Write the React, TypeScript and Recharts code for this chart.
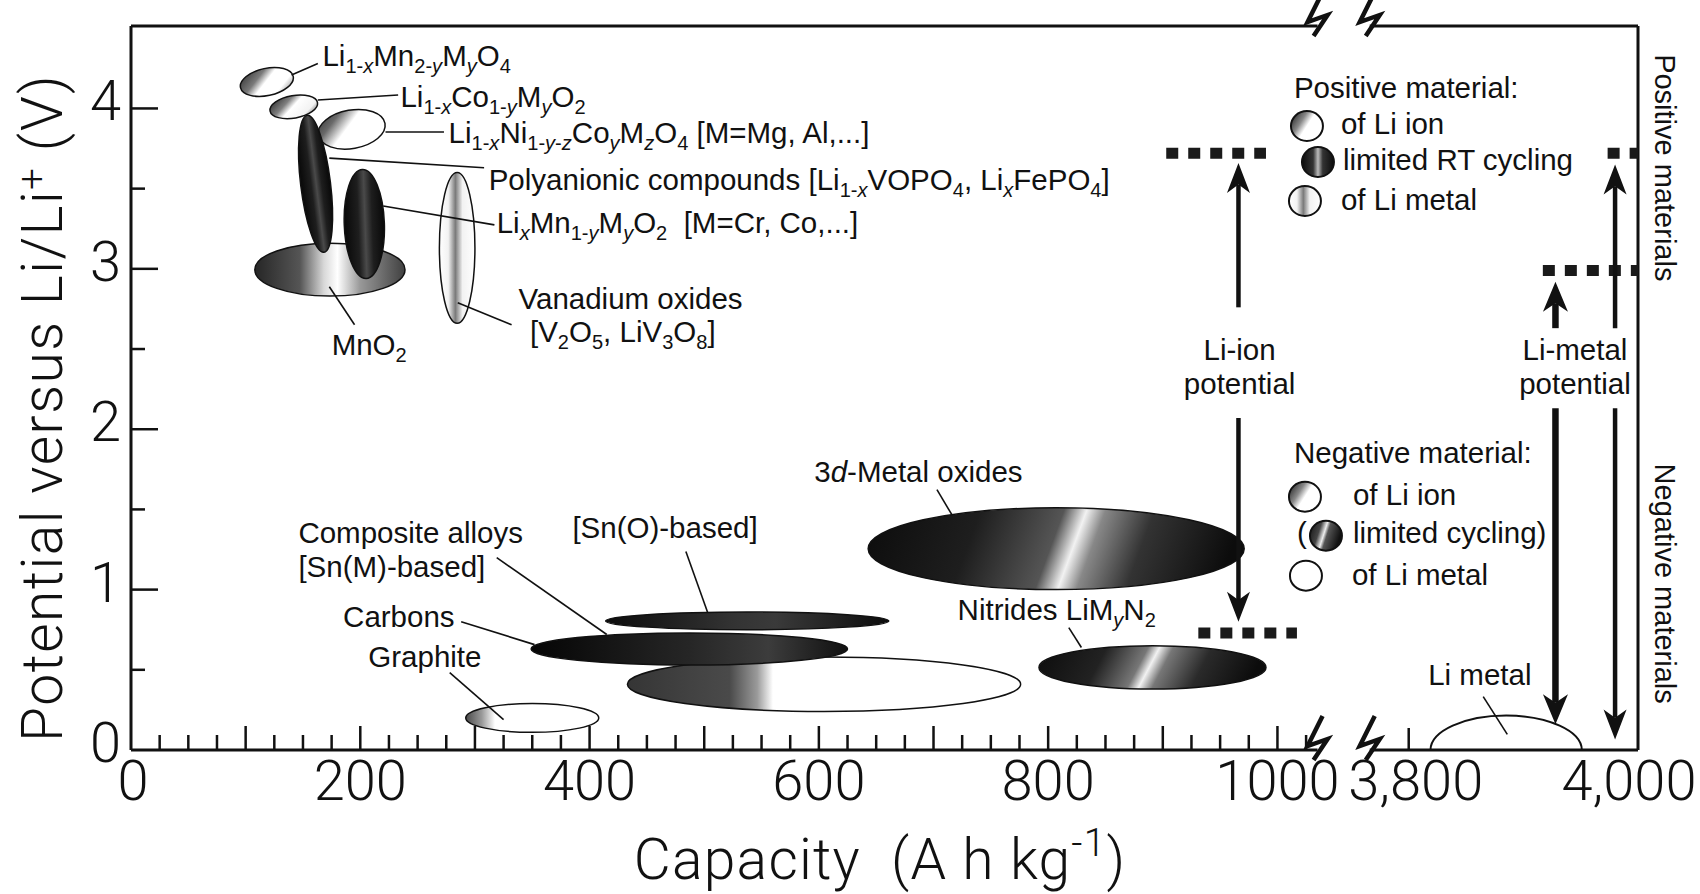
import React from 'react';
import {
  ComposedChart, XAxis, YAxis, Scatter,
  ReferenceArea, ReferenceLine, ReferenceDot,
} from 'recharts';

// the capacity axis is broken: 0-1025 and 3,775-4,000 share one drawn line
const toV = (cap: number) => (cap < 2000 ? cap : cap - 2685.5);
const X_MAX = toV(4000);
const Y_MAX = 4.514;

// ---- values (capacity A h/kg, potential V) ----
const positiveMaterials = [
  { id: 'mno2', cap: [108, 239], volt: [2.83, 3.16] },
  { id: 'nickel', cap: [163, 222], volt: [3.75, 3.99] },
  { id: 'cobalt', cap: [121, 163], volt: [3.94, 4.08] },
  { id: 'spinel', cap: [95, 142], volt: [4.08, 4.25] },
  { id: 'polyanionic', cap: [148, 174], volt: [3.1, 3.96] },
  { id: 'layeredMn', cap: [186, 221], volt: [2.94, 3.62] },
  { id: 'vanadium', cap: [269, 300], volt: [2.66, 3.6] },
];

const negativeMaterials = [
  { id: 'alloys', cap: [433, 776], volt: [0.24, 0.58] },
  { id: 'graphite', cap: [292, 408], volt: [0.11, 0.29] },
  { id: 'carbons', cap: [349, 625], volt: [0.53, 0.73] },
  { id: 'tinOxide', cap: [414, 661], volt: [0.75, 0.86] },
  { id: 'oxides3d', cap: [643, 971], volt: [1.0, 1.51] },
  { id: 'nitrides', cap: [792, 990], volt: [0.38, 0.65] },
  { id: 'liMetal', cap: [3819, 3951], volt: [-0.215, 0.215] },
];

const potentialLevels = [
  { id: 'ion-pos', volt: 3.72, cap: [903, 990] },
  { id: 'ion-neg', volt: 0.73, cap: [931, 1017] },
  { id: 'metal-4v', volt: 3.72, cap: [3973.5, 4000] },
  { id: 'metal-3v', volt: 2.99, cap: [3917, 4000] },
];

const potentialArrows = [
  { id: 'ion-up', cap: 966, from: 2.76, to: 3.66, heavy: false },
  { id: 'ion-down', cap: 966, from: 2.07, to: 0.8, heavy: false },
  { id: 'metal-up', cap: 3928, from: 2.63, to: 2.92, heavy: true },
  { id: 'metal-down', cap: 3928, from: 2.13, to: 0.16, heavy: true },
  { id: 'metal4-up', cap: 3980, from: 2.63, to: 3.65, heavy: false },
  { id: 'metal4-down', cap: 3980, from: 2.13, to: 0.066, heavy: false },
];

// label text, where it starts, and its leader line
const materialLabels = [
  { text: 'Li_{1-*x*}Mn_{2-*y*}M_{*y*}O_{4}', at: [167, 4.262], line: [[140, 4.209], [163, 4.28]] },
  { text: 'Li_{1-*x*}Co_{1-*y*}M_{*y*}O_{2}', at: [235, 4.012], line: [[163, 4.053], [233, 4.084]] },
  { text: 'Li_{1-*x*}Ni_{1-*y*-*z*}Co_{*y*}M_{*z*}O_{4} [M=Mg, Al,...]', at: [277, 3.785], line: [[222, 3.853], [273, 3.853]] },
  { text: 'Polyanionic compounds [Li_{1-*x*}VOPO_{4}, Li_{*x*}FePO_{4}]', at: [312, 3.49], line: [[173, 3.69], [308, 3.63]] },
  { text: 'Li_{*x*}Mn_{1-*y*}M_{*y*}O_{2}  [M=Cr, Co,...]', at: [319, 3.224], line: [[220, 3.392], [317, 3.274]] },
  { text: 'Vanadium oxides', at: [338, 2.75], line: [[285, 2.788], [332, 2.651]] },
  { text: '[V_{2}O_{5}, LiV_{3}O_{8}]', at: [348, 2.542] },
  { text: 'MnO_{2}', at: [175, 2.464], line: [[173, 2.888], [195, 2.651]] },
  { text: 'Composite alloys', at: [146, 1.293] },
  { text: '[Sn(M)-based]', at: [146, 1.081], line: [[319, 1.199], [415, 0.72]] },
  { text: 'Carbons', at: [185, 0.769], line: [[288, 0.8], [352, 0.657]] },
  { text: 'Graphite', at: [207, 0.52], line: [[278, 0.483], [325, 0.19]] },
  { text: '[Sn(O)-based]', at: [385, 1.324], line: [[484, 1.237], [503, 0.857]] },
  { text: '3*d*-Metal oxides', at: [596, 1.673], line: [[703, 1.623], [716, 1.467]] },
  { text: 'Nitrides LiM_{*y*}N_{2}', at: [721, 0.813], line: [[818, 0.763], [829, 0.639]] },
  { text: 'Li metal', at: [3817, 0.408], line: [[3865, 0.333], [3886, 0.097]] },
];

const potentialNotes = [
  { lines: ['Li-ion', 'potential'], cap: 967, volt: [2.43, 2.222] },
  { lines: ['Li-metal', 'potential'], cap: 3945, volt: [2.43, 2.222] },
];

const positiveLegend = { title: 'Positive material:', items: ['of Li ion', 'limited RT cycling', 'of Li metal'] };
const negativeLegend = { title: 'Negative material:', items: ['of Li ion', 'limited cycling)', 'of Li metal'] };
const sideLabels = ['Positive materials', 'Negative materials'];

const xTickLabels = [
  { cap: 0, label: '0' }, { cap: 200, label: '200' }, { cap: 400, label: '400' },
  { cap: 600, label: '600' }, { cap: 800, label: '800' }, { cap: 1000, label: '1000' },
  { cap: 3800, label: '3,800' }, { cap: 4000, label: '4,000' },
];
const yTickValues = [0, 0.5, 1, 1.5, 2, 2.5, 3, 3.5, 4];
const xTitle = 'Capacity  (A h kg^{-1})';
const yTitle = 'Potential versus Li/Li^{+} (V)';

// ---- styling / layout ----
const INK = '#111';
const LABEL_FONT = '"Liberation Sans", Arial, Helvetica, sans-serif';
const AXIS_FONT = 'Roboto, "Liberation Sans", sans-serif';
const LABEL_SIZE = 29.5;

const shading: Record<string, { fill: string; tilt: number }> = {
  mno2: { fill: 'gMnO2', tilt: 0 },
  nickel: { fill: 'gNickel', tilt: -10 },
  cobalt: { fill: 'gCobalt', tilt: -10 },
  spinel: { fill: 'gSpinel', tilt: -12 },
  polyanionic: { fill: 'gDark', tilt: -7 },
  layeredMn: { fill: 'gDark', tilt: -2 },
  vanadium: { fill: 'gVanadium', tilt: 0 },
  alloys: { fill: 'gAlloys', tilt: 0 },
  graphite: { fill: 'gGraphite', tilt: 0 },
  carbons: { fill: 'gCarbons', tilt: 0 },
  tinOxide: { fill: 'gTin', tilt: 0 },
  oxides3d: { fill: 'g3d', tilt: 0 },
  nitrides: { fill: 'gNitride', tilt: 0 },
  liMetal: { fill: 'white', tilt: 0 },
};

const gradients: { id: string; dir: number[]; stops: [number, string][] }[] = [
  { id: 'gSpinel', dir: [0, 0.2, 1, 0.8], stops: [[0, '#3a3a3a'], [0.3, '#7a7a7a'], [0.48, '#fff'], [0.8, '#fff'], [1, '#9a9a9a']] },
  { id: 'gCobalt', dir: [0, 0.2, 1, 0.8], stops: [[0, '#333'], [0.3, '#808080'], [0.48, '#fff'], [0.82, '#f2f2f2'], [1, '#777']] },
  { id: 'gNickel', dir: [0, 0, 1, 0.6], stops: [[0, '#2a2a2a'], [0.28, '#6a6a6a'], [0.52, '#fff'], [1, '#fff']] },
  { id: 'gDark', dir: [0, 0, 1, 0], stops: [[0, '#080808'], [0.35, '#1e1e1e'], [0.52, '#4a4a4a'], [0.7, '#1e1e1e'], [1, '#080808']] },
  { id: 'gMnO2', dir: [0, 0, 1, 0], stops: [[0, '#262626'], [0.3, '#555'], [0.46, '#d8d8d8'], [0.55, '#fff'], [0.7, '#999'], [1, '#404040']] },
  { id: 'gVanadium', dir: [0, 0, 1, 0], stops: [[0, '#fff'], [0.25, '#f2f2f2'], [0.45, '#7a7a7a'], [0.65, '#f2f2f2'], [1, '#fff']] },
  { id: 'gGraphite', dir: [0, 0, 1, 0], stops: [[0, '#4a4a4a'], [0.12, '#999'], [0.22, '#fff'], [1, '#fff']] },
  { id: 'gAlloys', dir: [0, 0, 1, 0], stops: [[0, '#353535'], [0.26, '#4a4a4a'], [0.33, '#9a9a9a'], [0.37, '#fff'], [1, '#fff']] },
  { id: 'gCarbons', dir: [0, 0, 1, 0], stops: [[0, '#050505'], [0.5, '#262626'], [0.75, '#3c3c3c'], [1, '#101010']] },
  { id: 'gTin', dir: [0, 0, 1, 0], stops: [[0, '#0c0c0c'], [0.45, '#333'], [0.6, '#3a3a3a'], [1, '#0c0c0c']] },
  { id: 'g3d', dir: [0, 0, 1, 0.08], stops: [[0, '#0c0c0c'], [0.3, '#1e1e1e'], [0.52, '#555'], [0.58, '#f2f2f2'], [0.63, '#888'], [0.76, '#333'], [1, '#0c0c0c']] },
  { id: 'gNitride', dir: [0, 0, 1, 0.1], stops: [[0, '#0c0c0c'], [0.3, '#222'], [0.48, '#777'], [0.53, '#f2f2f2'], [0.59, '#777'], [0.76, '#2a2a2a'], [1, '#0c0c0c']] },
  { id: 'gLegIon', dir: [0, 0.2, 1, 0.8], stops: [[0, '#2a2a2a'], [0.3, '#888'], [0.5, '#fff'], [1, '#fff']] },
  { id: 'gLegStripe', dir: [0, 0, 1, 0], stops: [[0, '#0c0c0c'], [0.35, '#333'], [0.5, '#bbb'], [0.65, '#333'], [1, '#0c0c0c']] },
  { id: 'gLeg3d', dir: [0, 0, 1, 0.3], stops: [[0, '#111'], [0.35, '#444'], [0.52, '#eee'], [0.62, '#555'], [1, '#111']] },
];

const legendLayout = {
  positive: { at: [1014.4, 4.065], circles: [[13, 28], [24, 64], [11, 103]], texts: [[47, 36], [49, 72], [47, 112]],
    fills: ['url(#gLegIon)', 'url(#gLegStripe)', 'url(#gVanadium)'] },
  negative: { at: [1014.4, 1.791], circles: [[11, 34], [32, 73], [12, 113]], texts: [[59, 42], [59, 80], [58, 122]],
    fills: ['url(#gLegIon)', 'url(#gLeg3d)', '#fff'], paren: [3, 80] },
};
const sideLabelAt = [[4014.4, 3.63], [4014.4, 1.037]];
const breakMarks = [1035, 3766];
const frameGap = [1035, 3766];
const Y_TITLE_POS = { x: 62, y: 408 };

// x ticks: minor every 25, major every 100 on the first segment
const xInfo = new Map<number, { len: number; label?: string; dx?: number }>();
for (let c = 25; c <= 1025; c += 25) xInfo.set(c, { len: c % 100 === 0 ? 24 : 15 });
xTickLabels.forEach((t) => {
  const v = toV(t.cap);
  const len = t.cap === 3800 ? 22 : t.cap === 0 || t.cap === 4000 ? 0 : xInfo.get(v)?.len ?? 0;
  const dx = t.cap === 3800 ? 7 : t.cap === 4000 ? -9 : t.cap === 0 ? 2 : 0;
  xInfo.set(v, { len, label: t.label, dx });
});
const xTicks = Array.from(xInfo.keys()).sort((a, b) => a - b);

// tiny markup: _{sub} ^{sup} *italic*
function rich(src: string, fs: number, supShift = 0.4) {
  const out: React.ReactNode[] = [];
  let level = 0;
  let cur = 0;
  let italic = false;
  let buf = '';
  const flush = () => {
    if (!buf) return;
    const target = level === 1 ? fs * 0.24 : level === -1 ? -fs * supShift : 0;
    out.push(
      <tspan key={out.length} dy={target - cur} fontSize={level ? fs * 0.68 : fs}
        fontStyle={italic ? 'italic' : 'normal'}>{buf}</tspan>,
    );
    cur = target;
    buf = '';
  };
  for (let i = 0; i < src.length; i++) {
    const ch = src[i];
    if ((ch === '_' || ch === '^') && src[i + 1] === '{') { flush(); level = ch === '_' ? 1 : -1; i++; continue; }
    if (ch === '}' && level !== 0) { flush(); level = 0; continue; }
    if (ch === '*') { flush(); italic = !italic; continue; }
    buf += ch;
  }
  flush();
  return out;
}

const ellipseShape = (id: string) => (p: any) => {
  const { fill, tilt } = shading[id];
  const w = Math.abs(p.width);
  const h = Math.abs(p.height);
  const cx = p.x + p.width / 2;
  const cy = p.y + p.height / 2;
  const paint = fill.startsWith('g') ? `url(#${fill})` : fill;
  if (id === 'liMetal') {
    // dome sitting on the axis
    return <path d={`M${cx - w / 2},${cy} A${w / 2},${h / 2} 0 0 1 ${cx + w / 2},${cy}`} fill="#fff" stroke={INK} strokeWidth={2} />;
  }
  return (
    <ellipse cx={cx} cy={cy} rx={w / 2} ry={h / 2} fill={paint} stroke={INK} strokeWidth={1.5}
      transform={tilt ? `rotate(${tilt} ${cx} ${cy})` : undefined} />
  );
};

const arrowShape = (heavy: boolean) => (p: any) => {
  const { x1, y1, x2, y2 } = p;
  const shaft = heavy ? 6.5 : 4.5;
  const hw = heavy ? 25 : 23;
  const hl = 30;
  const dir = y2 < y1 ? -1 : 1;
  const back = y2 - dir * hl;
  const notch = y2 - dir * hl * 0.72;
  return (
    <g>
      <line x1={x1} y1={y1} x2={x2} y2={notch} stroke={INK} strokeWidth={shaft} />
      <polygon points={`${x2},${y2} ${x2 - hw / 2},${back} ${x2},${notch} ${x2 + hw / 2},${back}`} fill={INK} />
    </g>
  );
};

const textShape = (src: string, anchor = 'start') => (p: any) => (
  <text x={p.cx} y={p.cy} fontFamily={LABEL_FONT} fontSize={LABEL_SIZE} fill={INK} textAnchor={anchor}
    style={{ whiteSpace: 'pre' }}>{rich(src, LABEL_SIZE)}</text>
);

const zigzag = (p: any) => {
  const cx = p.cx;
  const cy = p.cy - 12;
  const pts = [[5, -22], [-10, 8], [10, 1], [-4, 22]].map(([dx, dy]) => `${cx + dx},${cy + dy}`).join(' ');
  return <polyline points={pts} fill="none" stroke={INK} strokeWidth={4.5} strokeLinejoin="miter" />;
};

const legendShape = (block: typeof positiveLegend, lay: any) => (p: any) => (
  <g fontFamily={LABEL_FONT} fontSize={LABEL_SIZE} fill={INK}>
    <text x={p.cx} y={p.cy}>{block.title}</text>
    {lay.paren && <text x={p.cx + lay.paren[0]} y={p.cy + lay.paren[1]}>(</text>}
    {block.items.map((item, i) => (
      <g key={item}>
        <ellipse cx={p.cx + lay.circles[i][0]} cy={p.cy + lay.circles[i][1]} rx={16} ry={15}
          fill={lay.fills[i]} stroke={INK} strokeWidth={2} />
        <text x={p.cx + lay.texts[i][0]} y={p.cy + lay.texts[i][1]}>{item}</text>
      </g>
    ))}
  </g>
);

const sideShape = (label: string) => (p: any) => (
  <text x={p.cx} y={p.cy} transform={`rotate(90 ${p.cx} ${p.cy})`} textAnchor="middle"
    fontFamily={LABEL_FONT} fontSize={29} fill={INK}>{label}</text>
);

const XTick = (p: any) => {
  const info = xInfo.get(p.payload.value);
  if (!info) return null;
  return (
    <g>
      {info.len > 0 && <line x1={p.x} y1={p.y} x2={p.x} y2={p.y - info.len} stroke={INK} strokeWidth={2.5} />}
      {info.label && (
        <text x={p.x + (info.dx ?? 0)} y={p.y + 49.5} textAnchor="middle" fontFamily={AXIS_FONT}
          fontWeight={300} fontSize={56} fill={INK}>{info.label}</text>
      )}
    </g>
  );
};

const YTick = (p: any) => {
  const v = p.payload.value;
  const major = Number.isInteger(v);
  return (
    <g>
      {v > 0 && <line x1={p.x} y1={p.y} x2={p.x + (major ? 27 : 14)} y2={p.y} stroke={INK} strokeWidth={2.5} />}
      {major && (
        <text x={p.x - 10} y={p.y + 12} textAnchor="end" fontFamily={AXIS_FONT} fontWeight={300}
          fontSize={56} fill={INK}>{v}</text>
      )}
    </g>
  );
};

const XTitle = (p: any) => {
  const vb = p.viewBox ?? { x: 131, y: 750.5 };
  return (
    <text x={vb.x + 749} y={vb.y + 129} textAnchor="middle" fontFamily={AXIS_FONT} fontWeight={300}
      fontSize={57} letterSpacing={1.2} fill={INK} style={{ whiteSpace: 'pre' }}>{rich(xTitle, 57)}</text>
  );
};

const YTitle = () => {
  const { x, y } = Y_TITLE_POS;
  return (
    <text x={x} y={y} transform={`rotate(-90 ${x} ${y})`} textAnchor="middle" fontFamily={AXIS_FONT}
      fontWeight={300} fontSize={57} letterSpacing={1.4} fill={INK}>{rich(yTitle, 57, 0.3)}</text>
  );
};

const centers = [...positiveMaterials, ...negativeMaterials].map((m) => ({
  x: toV((m.cap[0] + m.cap[1]) / 2),
  y: Math.max(0, (m.volt[0] + m.volt[1]) / 2),
}));

export default function App() {
  const frame = { stroke: INK, strokeWidth: 3, ifOverflow: 'visible' as const };
  return (
    <div style={{ position: 'absolute', left: 0, top: 0, background: '#fff' }}>
      <ComposedChart width={1700} height={894} margin={{ top: 26, right: 62, bottom: 54, left: 61 }}>
        <defs>
          {gradients.map((g) => (
            <linearGradient key={g.id} id={g.id} x1={g.dir[0]} y1={g.dir[1]} x2={g.dir[2]} y2={g.dir[3]}>
              {g.stops.map(([o, c], i) => <stop key={i} offset={o} stopColor={c} />)}
            </linearGradient>
          ))}
        </defs>
        <XAxis type="number" dataKey="x" domain={[0, X_MAX]} ticks={xTicks} interval={0} allowDataOverflow
          height={90} tickSize={0} tickMargin={0} tickLine={false} axisLine={false} tick={<XTick />}
          label={{ content: XTitle }} />
        <YAxis type="number" dataKey="y" domain={[0, Y_MAX]} ticks={yTickValues} interval={0} allowDataOverflow
          width={70} tickSize={0} tickMargin={0} tickLine={false} axisLine={{ stroke: INK, strokeWidth: 3 }}
          tick={<YTick />} label={{ content: YTitle }} />

        <Scatter data={centers} isAnimationActive={false} legendType="none" shape={() => <g />} />

        {[...positiveMaterials, ...negativeMaterials].map((m) => (
          <ReferenceArea key={m.id} x1={toV(m.cap[0])} x2={toV(m.cap[1])} y1={m.volt[0]} y2={m.volt[1]}
            ifOverflow="visible" shape={ellipseShape(m.id)} />
        ))}

        {/* frame with the axis break */}
        <ReferenceLine segment={[{ x: 0, y: 0 }, { x: toV(frameGap[0]), y: 0 }]} {...frame} />
        <ReferenceLine segment={[{ x: toV(frameGap[1]), y: 0 }, { x: X_MAX, y: 0 }]} {...frame} />
        <ReferenceLine segment={[{ x: 0, y: Y_MAX }, { x: toV(frameGap[0]), y: Y_MAX }]} {...frame} />
        <ReferenceLine segment={[{ x: toV(frameGap[1]), y: Y_MAX }, { x: X_MAX, y: Y_MAX }]} {...frame} />
        <ReferenceLine segment={[{ x: X_MAX, y: 0 }, { x: X_MAX, y: Y_MAX }]} {...frame} />

        {materialLabels.filter((l) => l.line).map((l, i) => (
          <ReferenceLine key={`lead-${i}`} ifOverflow="visible" stroke={INK} strokeWidth={1.6}
            segment={[{ x: toV(l.line![0][0]), y: l.line![0][1] }, { x: toV(l.line![1][0]), y: l.line![1][1] }]} />
        ))}

        {potentialLevels.map((lv) => (
          <ReferenceLine key={lv.id} ifOverflow="visible" stroke="#1a1a1a" strokeWidth={11} strokeDasharray="12 10"
            segment={[{ x: toV(lv.cap[0]), y: lv.volt }, { x: toV(lv.cap[1]), y: lv.volt }]} />
        ))}

        {potentialArrows.map((a) => (
          <ReferenceLine key={a.id} ifOverflow="visible" shape={arrowShape(a.heavy)}
            segment={[{ x: toV(a.cap), y: a.from }, { x: toV(a.cap), y: a.to }]} />
        ))}

        {breakMarks.map((b) => (
          <React.Fragment key={`brk-${b}`}>
            <ReferenceDot x={toV(b)} y={0} r={1} ifOverflow="visible" shape={zigzag} />
            <ReferenceDot x={toV(b)} y={Y_MAX} r={1} ifOverflow="visible" shape={zigzag} />
          </React.Fragment>
        ))}

        {materialLabels.map((l, i) => (
          <ReferenceDot key={`lab-${i}`} x={toV(l.at[0])} y={l.at[1]} r={1} ifOverflow="visible" shape={textShape(l.text)} />
        ))}

        {potentialNotes.map((n) => n.lines.map((ln, i) => (
          <ReferenceDot key={`${n.cap}-${i}`} x={toV(n.cap)} y={n.volt[i]} r={1} ifOverflow="visible"
            shape={textShape(ln, 'middle')} />
        )))}

        <ReferenceDot x={toV(legendLayout.positive.at[0])} y={legendLayout.positive.at[1]} r={1} ifOverflow="visible"
          shape={legendShape(positiveLegend, legendLayout.positive)} />
        <ReferenceDot x={toV(legendLayout.negative.at[0])} y={legendLayout.negative.at[1]} r={1} ifOverflow="visible"
          shape={legendShape(negativeLegend, legendLayout.negative)} />

        {sideLabels.map((s, i) => (
          <ReferenceDot key={s} x={toV(sideLabelAt[i][0])} y={sideLabelAt[i][1]} r={1} ifOverflow="visible"
            shape={sideShape(s)} />
        ))}
      </ComposedChart>
    </div>
  );
}
